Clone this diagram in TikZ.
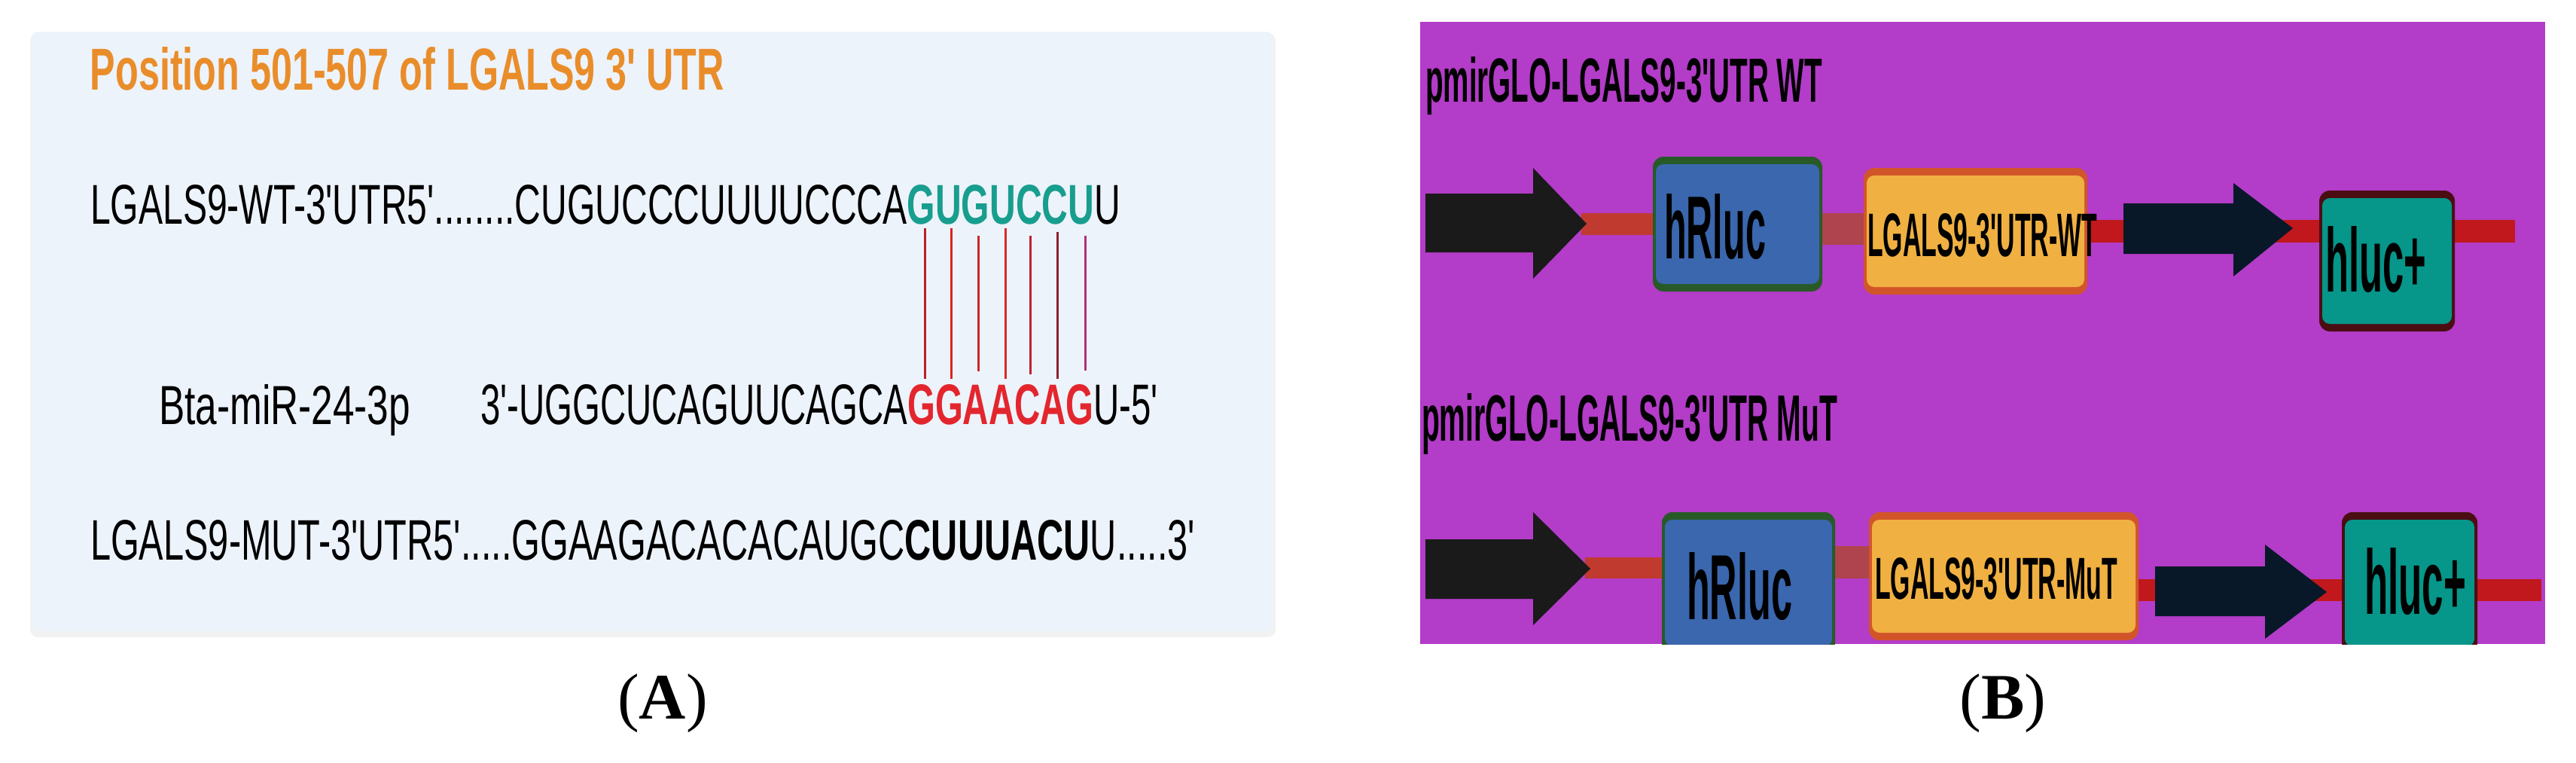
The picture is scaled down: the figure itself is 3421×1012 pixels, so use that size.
\documentclass[tikz,border=0pt]{standalone}
\usepackage{fontspec}
\usepackage{graphicx}
\setmainfont{Liberation Sans}
\newfontfamily\serifA{Liberation Serif}
\usetikzlibrary{calc}
\newlength\px \setlength\px{0.01cm}
\newcommand\q{\textquotesingle}
\newcommand\fitbox[3]{\resizebox{#1\px}{#2\px}{#3}}
\definecolor{panelA}{HTML}{EDF3FA}
\definecolor{shadowA}{HTML}{F2F2F2}
\definecolor{ttlorange}{HTML}{E98D2B}
\definecolor{teal}{HTML}{189E8E}
\definecolor{mirred}{HTML}{E3262E}
\definecolor{purpleB}{HTML}{B33CC8}
\definecolor{barred}{HTML}{C13A30}
\definecolor{barmuted}{HTML}{AF444E}
\definecolor{linered}{HTML}{C0181C}
\definecolor{arrowblack}{HTML}{1A1A1A}
\definecolor{arrownavy}{HTML}{081828}
\definecolor{blueF}{HTML}{3A67AE}
\definecolor{greenB}{HTML}{275A27}
\definecolor{yellowF}{HTML}{F0B142}
\definecolor{orangeB}{HTML}{D2552A}
\definecolor{tealF}{HTML}{06968A}
\definecolor{maroonB}{HTML}{4A0E12}
\definecolor{Lone}{HTML}{B82226}
\definecolor{Ltwo}{HTML}{E02020}
\definecolor{Lthree}{HTML}{C82828}
\definecolor{Lfour}{HTML}{D42A2A}
\definecolor{Lfive}{HTML}{C02030}
\definecolor{Lsix}{HTML}{8A2030}
\definecolor{Lseven}{HTML}{B0307A}
% gene box: name, corner1, corner2, border colour, fill colour
\newcommand\genebox[5]{%
  \fill[#4, rounded corners=14\px] (#2) rectangle (#3);
  \fill[#5, rounded corners=10\px] ($(#2)+(4,10)$) rectangle ($(#3)+(-4,-10)$);
  \path (#2) -- (#3) coordinate[pos=.5] (#1);
}
\begin{document}
\begin{tikzpicture}[x=0.01cm,y=-0.01cm,
  txt/.style={anchor=base west, inner sep=0pt, outer sep=0pt},
  pairline/.style={line width=3\px}]
\useasboundingbox (0,0) rectangle (3421,1012);
\fill[white] (0,0) rectangle (3421,1012);

% ---------------- Panel A ----------------
\fill[shadowA, rounded corners=10\px] (40,44) rectangle (1694,846);
\fill[panelA, rounded corners=8\px] (43,42) rectangle (1690,838);

\node[txt, text=ttlorange] (titleA) at (120,120)
  {\fitbox{842}{57}{\bfseries Position 501-507 of LGALS9 3\q{} UTR}};

\node[txt] (wt) at (120,297)
  {\fitbox{1368}{52}{LGALS9-WT-3\q UTR5\q........CUGUCCCUUUUCCCA\textcolor{teal}{\bfseries GUGUCCU}U}};

\node[txt] (mirname) at (211,563)
  {\fitbox{334}{53}{Bta-miR-24-3p}};
\node[txt] (mirseq) at (638,563)
  {\fitbox{900}{53}{3\q-UGGCUCAGUUCAGCA\textcolor{mirred}{\bfseries GGAACAG}U-5\q}};

\node[txt] (mut) at (120,743)
  {\fitbox{1467}{53}{LGALS9-MUT-3\q UTR5\q.....GGAAGACACACAUGC{\bfseries CUUUACU}U.....3\q}};

% base-pairing lines
\coordinate (p1a) at (1228,303); \coordinate (p1b) at (1228,503);
\coordinate (p2a) at (1263,303); \coordinate (p2b) at (1263,503);
\coordinate (p3a) at (1299,313); \coordinate (p3b) at (1299,493);
\coordinate (p4a) at (1335,303); \coordinate (p4b) at (1335,503);
\coordinate (p5a) at (1368,313); \coordinate (p5b) at (1368,497);
\coordinate (p6a) at (1404,308); \coordinate (p6b) at (1404,503);
\coordinate (p7a) at (1441,313); \coordinate (p7b) at (1441,492);
\draw[pairline, Lone]   (p1a) -- (p1b);
\draw[pairline, Ltwo]   (p2a) -- (p2b);
\draw[pairline, Lthree] (p3a) -- (p3b);
\draw[pairline, Lfour]  (p4a) -- (p4b);
\draw[pairline, Lfive]  (p5a) -- (p5b);
\draw[pairline, Lsix]   (p6a) -- (p6b);
\draw[pairline, Lseven] (p7a) -- (p7b);

\node[anchor=base, inner sep=0pt] (labA) at (880,954)
  {\fontsize{24.5pt}{29pt}\selectfont\serifA (\textbf{A})};

% ---------------- Panel B ----------------
\fill[purpleB] (1886,29) rectangle (3380,855);

\node[txt] (titleWT) at (1893,135)
  {\fitbox{527}{60}{\bfseries pmirGLO-LGALS9-3\q UTR WT}};
\node[txt] (titleMuT) at (1888,585)
  {\fitbox{552}{63}{\bfseries pmirGLO-LGALS9-3\q UTR MuT}};

% Row 1 (WT)
\fill[barred] (2100,283) rectangle (2200,312);
\fill[barmuted] (2415,283) rectangle (2480,325);
\fill[linered] (2765,292) rectangle (3340,322);
\fill[arrowblack] (1893,257) -- (2036,257) -- (2036,223) -- (2107,297)
   -- (2036,370) -- (2036,335) -- (1893,335) -- cycle;
\genebox{hrlucA}{2195,208}{2420,387}{greenB}{blueF}
\genebox{utrA}{2475,223}{2772,391}{orangeB}{yellowF}
\fill[arrownavy] (2820,270) -- (2966,270) -- (2966,243) -- (3045,303)
   -- (2966,367) -- (2966,337) -- (2820,337) -- cycle;
\genebox{hlucA}{3080,253}{3260,440}{maroonB}{tealF}
\node[txt] (hrlucAt) at (2210,343) {\fitbox{135}{86}{\bfseries hRluc}};
\node[txt] (utrAt) at (2480,340) {\fitbox{305}{57}{\bfseries LGALS9-3\q UTR-WT}};
\node[txt] (hlucAt) at (3088,387) {\fitbox{134}{87}{\bfseries hluc+}};

% Row 2 (MuT)
\begin{scope}
\clip (1886,29) rectangle (3380,855);
\fill[barred] (2105,740) rectangle (2212,768);
\fill[barmuted] (2430,725) rectangle (2487,768);
\fill[linered] (2830,769) rectangle (3375,798);
\fill[arrowblack] (1893,716) -- (2036,716) -- (2036,680) -- (2112,755)
   -- (2036,830) -- (2036,795) -- (1893,795) -- cycle;
\genebox{hrlucB}{2207,680}{2437,868}{greenB}{blueF}
\genebox{utrB}{2482,680}{2840,850}{orangeB}{yellowF}
\fill[arrownavy] (2862,752) -- (3008,752) -- (3008,723) -- (3090,786)
   -- (3008,848) -- (3008,818) -- (2862,818) -- cycle;
\genebox{hlucB}{3110,680}{3290,868}{maroonB}{tealF}
\end{scope}
\node[txt] (hrlucBt) at (2240,822) {\fitbox{140}{89}{\bfseries hRluc}};
\node[txt] (utrBt) at (2490,795) {\fitbox{322}{55}{\bfseries LGALS9-3\q UTR-MuT}};
\node[txt] (hlucBt) at (3140,815) {\fitbox{135}{88}{\bfseries hluc+}};

\node[anchor=base, inner sep=0pt] (labB) at (2660,954)
  {\fontsize{24.5pt}{29pt}\selectfont\serifA (\textbf{B})};
\end{tikzpicture}
\end{document}
